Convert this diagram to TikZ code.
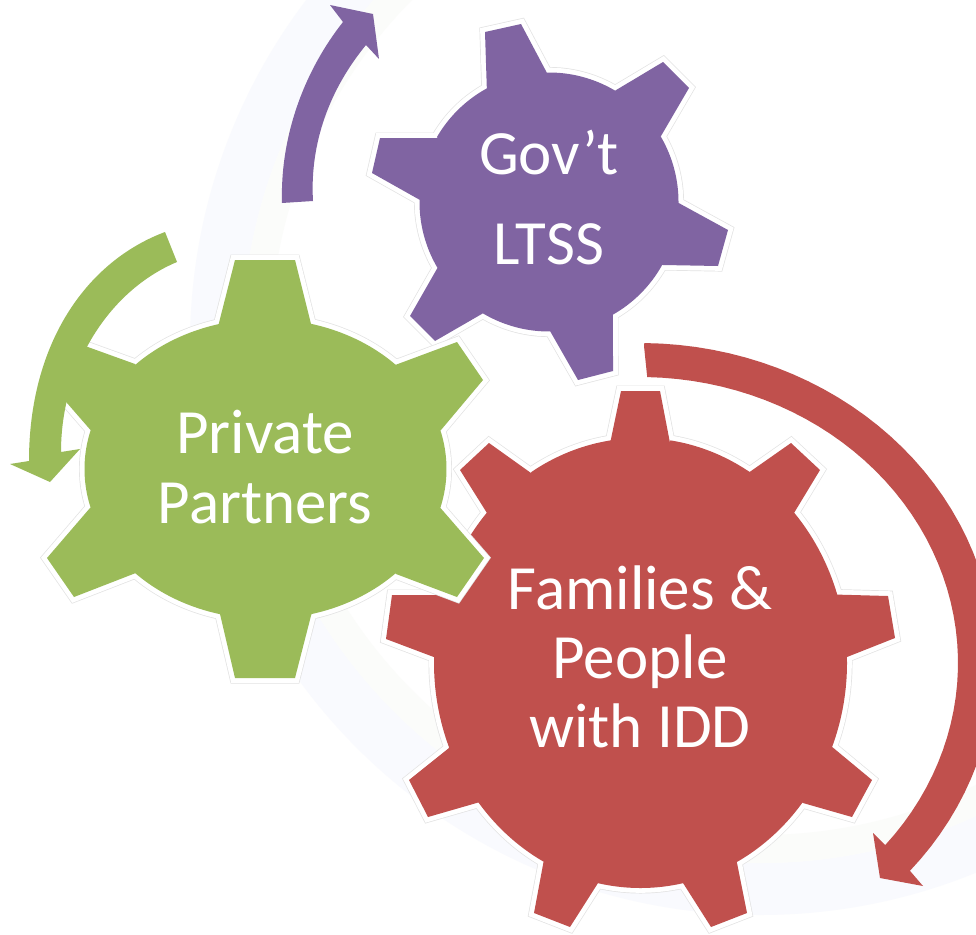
\documentclass[tikz,border=0pt]{standalone}
\usepackage{fontspec}
\setmainfont{Carlito}
\definecolor{gearred}{HTML}{C0504D}
\definecolor{gearpurple}{HTML}{8064A2}
\definecolor{geargreen}{HTML}{9BBB59}
\definecolor{haloedge}{HTML}{E2E2E2}
\definecolor{ringblue}{HTML}{F9FAFE}
\definecolor{ringgreen}{HTML}{FBFCFA}
\newcommand\earc[6]{-- plot[domain=#5:#6,samples=48] ({#1+#3*cos(\x)},{#2+#4*sin(\x)})}
\newcommand\redgear{(621,391) -- (660,391) -- (670,443)
  \earc{640.5}{663}{206.5}{225}{-81.7}{-58.1} -- (791,443) -- (820,470) -- (794,513)
  \earc{640.5}{663}{206.5}{225}{-41.9}{-17.7} -- (888,596) -- (895,638) -- (847,657)
  \earc{640.5}{663}{206.5}{225}{-1.5}{21.9} -- (872,780) -- (852,817) -- (803,803)
  \earc{640.5}{663}{206.5}{225}{38.3}{62.2} -- (747,913) -- (711,927) -- (683,883)
  \earc{640.5}{663}{206.5}{225}{78.1}{101.9} -- (570,927) -- (534,913) -- (543.5,862)
  \earc{640.5}{663}{206.5}{225}{117.8}{141.7} -- (428,817) -- (409,780) -- (449,748)
  \earc{640.5}{663}{206.5}{225}{158.1}{181.5} -- (386,639) -- (392,595) -- (445,595)
  \earc{640.5}{663}{206.5}{225}{197.7}{221.9} -- (460,470) -- (489,443) -- (531,473)
  \earc{640.5}{663}{206.5}{225}{238.1}{261.7} -- cycle}
\newcommand\purplegear{(485,32) -- (521,24) -- (547,73)
  \earc{549}{202}{129.5}{129.5}{-91}{-59.3} -- (663,62) -- (689,88) -- (661,136)
  \earc{549}{202}{129.5}{129.5}{-30.5}{0.4} -- (728,230) -- (718,266) -- (663,265)
  \earc{549}{202}{129.5}{129.5}{28.9}{60.4} -- (613,371) -- (578,380) -- (550,331)
  \earc{549}{202}{129.5}{129.5}{89.6}{120.7} -- (435,341) -- (410,316) -- (438,267)
  \earc{549}{202}{129.5}{129.5}{149.6}{181} -- (372,173) -- (380,138) -- (438,138)
  \earc{549}{202}{129.5}{129.5}{210}{241.3} -- cycle}
\newcommand\greengear{(235,260) -- (295,260) -- (311,324)
  \earc{265.5}{469}{181}{150}{-75.3}{-44} -- (457,342) -- (483,380) -- (441,430)
  \earc{265.5}{469}{181}{150}{-15}{15} -- (484,558) -- (457,597) -- (396,574)
  \earc{265.5}{469}{181}{150}{44}{75.3} -- (295,678) -- (235,678) -- (220,614)
  \earc{265.5}{469}{181}{150}{104.7}{136} -- (74,597) -- (47,558) -- (90,508)
  \earc{265.5}{469}{181}{150}{165}{195} -- (47,380) -- (74,342) -- (135,364)
  \earc{265.5}{469}{181}{150}{224}{255} -- cycle}
\tikzset{
  haloline/.style={draw=haloedge,line width=11pt,line join=miter,miter limit=10},
  halowhite/.style={draw=white,line width=9.6pt,line join=miter,miter limit=10},
  gearlabel/.style={text=white,align=center,inner sep=0pt},
}
\begin{document}
\begin{tikzpicture}[x=1pt,y=-1pt]
\useasboundingbox (0,0) rectangle (976,934);
\clip (0,0) rectangle (976,934);
\fill[white] (0,0) rectangle (976,934);
% faint reflected swirl
\draw[ringblue,line width=52pt] (760,345) circle[radius=544];
\draw[ringgreen,line width=28pt] (760,345) circle[radius=504];
% gears
\path[haloline] \redgear;
\path[halowhite] \redgear;
\path[fill=gearred] \redgear;
\path[haloline] \purplegear;
\path[halowhite] \purplegear;
\path[fill=gearpurple] \purplegear;
\path[haloline] \greengear;
\path[halowhite] \greengear;
\path[fill=geargreen] \greengear;
% curved arrows
\fill[gearpurple] (282,203) .. controls (280,135) and (305,70) .. (343,22) -- (330,5) -- (373,14) -- (379,59) -- (366,45) .. controls (325,95) and (310,150) .. (313,201) -- cycle;
\fill[geargreen] (165,232) .. controls (85,262) and (29,345) .. (29,461) -- (10,464) -- (50,482) -- (80,449) -- (61,452) .. controls (61,365) and (110,290) .. (177,262) -- cycle;
\fill[gearred] (644,346) \earc{640}{663}{355}{320}{-89.3}{40.5} -- (923,886) -- (880,878) -- (873,833) -- (887,847) \earc{640}{663}{318}{286}{39.6}{-88.7} -- cycle;
% labels
\node[gearlabel,font=\fontsize{63}{70}\selectfont] (partners) at (265,467) {Private\\Partners};
\node[gearlabel,font=\fontsize{63}{69}\selectfont] (families) at (640,657) {Families \&\\People\\with IDD};
\node[gearlabel,font=\fontsize{63}{90}\selectfont] (gov) at (549,198) {Gov’t\\LTSS};
\end{tikzpicture}
\end{document}
